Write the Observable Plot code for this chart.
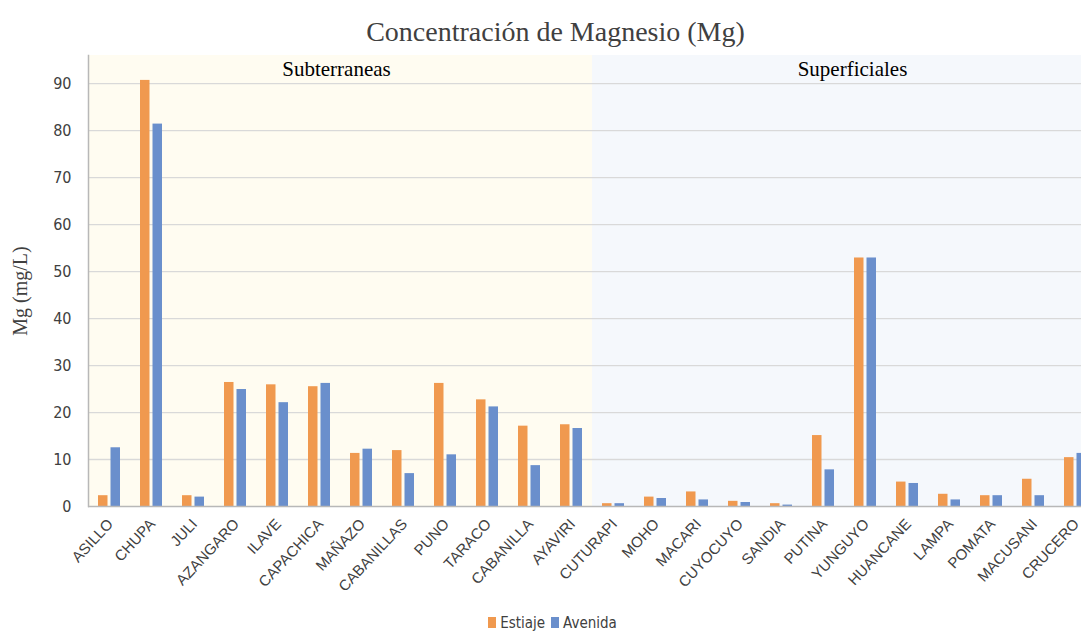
<!DOCTYPE html>
<html>
<head>
<meta charset="utf-8">
<script src="https://cdn.jsdelivr.net/npm/d3@7"></script>
<script src="https://cdn.jsdelivr.net/npm/@observablehq/plot@0.6"></script>
<style>
  html, body { margin: 0; padding: 0; background: #fff; }
  #wrap { width: 1081px; height: 633px; overflow: hidden; position: relative; }
  #title { box-sizing: border-box; height: 50px; padding-top: 18px; padding-left: 30px; text-align: center;
           font-family: "Liberation Serif", "Times New Roman", serif; font-size: 28px; line-height: 1; color: #404040; }
  #chart svg { overflow: hidden; display: block; }
  #legend { height: 33px; display: flex; justify-content: center; align-items: center; padding-left: 24px; padding-top: 12px; box-sizing: border-box;
            font-family: "Liberation Sans Narrow", "DejaVu Sans Condensed", "Liberation Sans", sans-serif; font-size: 15px; color: #404040; }
  #legend .sw { display: inline-block; width: 8px; height: 11px; margin-right: 4px; }
  #legend .item { display: inline-flex; align-items: center; margin: 0 3px; }
</style>
</head>
<body>
<div id="wrap">
  <div id="title">Concentración de Magnesio (Mg)</div>
  <div id="chart"></div>
  <div id="legend"></div>
</div>
<script>
const subterraneas = ["ASILLO","CHUPA","JULI","AZANGARO","ILAVE","CAPACHICA","MAÑAZO","CABANILLAS","PUNO","TARACO","CABANILLA","AYAVIRI"];
const superficiales = ["CUTURAPI","MOHO","MACARI","CUYOCUYO","SANDIA","PUTINA","YUNGUYO","HUANCANE","LAMPA","POMATA","MACUSANI","CRUCERO"];
const categories = subterraneas.concat(superficiales);
const estiaje = [2.3, 90.7, 2.3, 26.4, 25.9, 25.5, 11.3, 11.9, 26.2, 22.7, 17.1, 17.4,
                 0.6, 2.0, 3.1, 1.1, 0.6, 15.1, 52.9, 5.2, 2.6, 2.3, 5.8, 10.4];
const avenida = [12.5, 81.4, 2.0, 24.9, 22.1, 26.2, 12.2, 7.0, 11.0, 21.2, 8.7, 16.6,
                 0.6, 1.7, 1.4, 0.85, 0.3, 7.8, 52.9, 4.9, 1.4, 2.3, 2.3, 11.3];
const seriesNames = ["Estiaje", "Avenida"];
const seriesColors = ["#f0994f", "#6a8fcc"];
const yTicks = [0, 10, 20, 30, 40, 50, 60, 70, 80, 90];
const groupNames = ["Subterraneas", "Superficiales"];
const groupAnchors = ["MAÑAZO", "YUNGUYO"];

const rowsE = categories.map((c, i) => ({cat: c, v: estiaje[i]}));
const rowsA = categories.map((c, i) => ({cat: c, v: avenida[i]}));
const groupRows = groupNames.map((n, i) => ({name: n, anchor: groupAnchors[i]}));
const sansNarrow = '"Liberation Sans Narrow", "DejaVu Sans Condensed", "Liberation Sans", sans-serif';
const sans = '"Liberation Sans", Arial, sans-serif';
const serif = '"Liberation Serif", "Times New Roman", serif';

const chart = Plot.plot({
  width: 1081,
  height: 550,
  marginTop: 5,
  marginBottom: 94,
  marginLeft: 88,
  marginRight: 0,
  style: {background: "transparent", overflow: "hidden"},
  x: {type: "band", domain: categories, range: [88, 1096], padding: 0},
  y: {domain: [0, 96]},
  marks: [
    Plot.barY(subterraneas, {x: d => d, y1: 0, y2: 96, fill: "#fffcf1", inset: 0}),
    Plot.barY(superficiales, {x: d => d, y1: 0, y2: 96, fill: "#f5f8fc", inset: 0}),
    Plot.gridY(yTicks.filter(t => t > 0), {stroke: "#d9d9d9", strokeOpacity: 1, strokeWidth: 1.3}),
    Plot.barY(rowsE, {x: "cat", y: "v", fill: seriesColors[0], insetLeft: 10, insetRight: 22.5}),
    Plot.barY(rowsA, {x: "cat", y: "v", fill: seriesColors[1], insetLeft: 22.5, insetRight: 10}),
    Plot.ruleY([0], {stroke: "#b8b8b8", strokeWidth: 1.5}),
    Plot.frame({anchor: "left", stroke: "#b8b8b8", strokeWidth: 1.5}),
    Plot.axisY({ticks: yTicks, tickSize: 0, tickPadding: 17, label: null,
      fontSize: 16, fontFamily: sansNarrow, fill: "#404040"}),
    Plot.axisX({tickSize: 0, tickRotate: -47, tickPadding: 15, label: null, dx: 1,
      fontSize: 15, fontFamily: sans, fill: "#404040"}),
    Plot.text(["Mg (mg/L)"], {frameAnchor: "left", rotate: -90, dx: -68, dy: 10, textAnchor: "middle",
      fontFamily: serif, fontSize: 20, fill: "#404040"}),
    Plot.text(groupRows.slice(0, 1), {x: "anchor", y: () => 93, text: "name", dx: -25,
      fontFamily: serif, fontSize: 21, fill: "#000"}),
    Plot.text(groupRows.slice(1), {x: "anchor", y: () => 93, text: "name", dx: -13,
      fontFamily: serif, fontSize: 21, fill: "#000"})
  ]
});
document.getElementById("chart").appendChild(chart);

const legend = document.getElementById("legend");
seriesNames.forEach((n, i) => {
  const item = document.createElement("span");
  item.className = "item";
  item.innerHTML = `<span class="sw" style="background:${seriesColors[i]}"></span>${n}`;
  legend.appendChild(item);
});
</script>
</body>
</html>
